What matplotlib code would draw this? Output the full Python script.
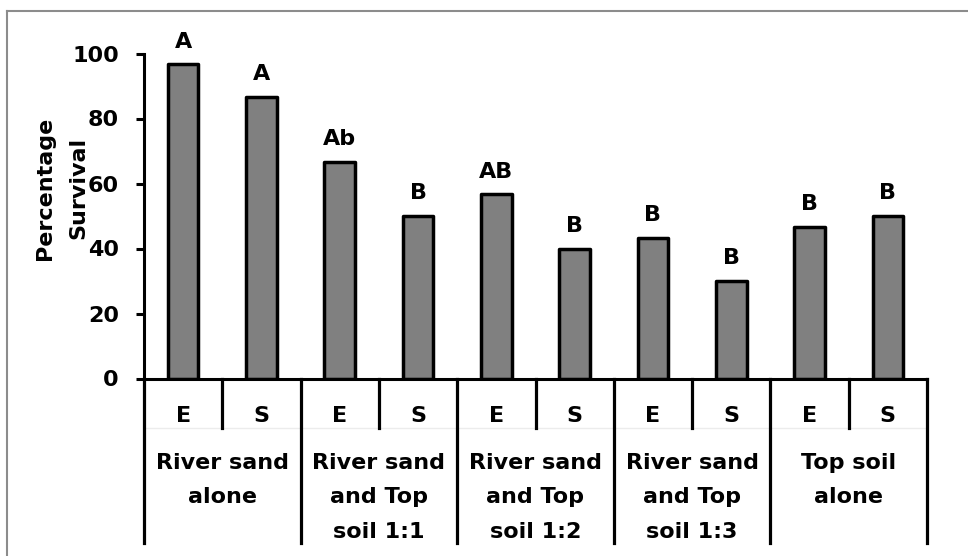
import numpy as np
import matplotlib
matplotlib.use('Agg')
import matplotlib.pyplot as plt
from matplotlib.lines import Line2D
from matplotlib.transforms import blended_transform_factory

groups = ['River sand\nalone', 'River sand\nand Top\nsoil 1:1', 'River sand\nand Top\nsoil 1:2',
          'River sand\nand Top\nsoil 1:3', 'Top soil\nalone']
subgroups = ['E', 'S']
survival = [96.67, 86.67, 66.67, 50.0, 56.67, 40.0, 43.33, 30.0, 46.67, 50.0]
letters = ['A', 'A', 'Ab', 'B', 'AB', 'B', 'B', 'B', 'B', 'B']
yticks = [0, 20, 40, 60, 80, 100]

plt.rcParams['font.family'] = ['DejaVu Sans']
plt.rcParams['font.weight'] = 'bold'
fs = 16

W, H = 968, 556
fig = plt.figure(figsize=(W / 100, H / 100), dpi=100)
ax = fig.add_axes([144 / W, (H - 378.5) / H, 783 / W, 325 / H])

x = np.arange(len(survival))
ax.bar(x, survival, width=0.39, color='#808080', edgecolor='black', linewidth=2.5, joinstyle='round')

for xi, v, lab in zip(x, survival, letters):
    ax.annotate(lab, xy=(xi, v), xytext=(0, 12), textcoords='offset points',
                ha='center', va='baseline', fontsize=fs, fontweight='bold')

ax.set_xlim(-0.5, len(survival) - 0.5)
ax.set_ylim(0, 100)
ax.set_yticks(yticks)
ax.set_xticks([])
ax.tick_params(axis='y', direction='out', length=6, width=2.2, pad=12, labelsize=fs)
for lbl in ax.get_yticklabels():
    lbl.set_fontweight('bold')
ax.spines['top'].set_visible(False)
ax.spines['right'].set_visible(False)
ax.spines['left'].set_linewidth(2.2)
ax.spines['bottom'].set_linewidth(2.2)

# category axis below the plot
trans = blended_transform_factory(ax.transData, ax.transAxes)
ax.add_line(Line2D([-0.5, len(survival) - 0.5], [-0.152, -0.152], transform=trans,
                   color='#ececec', lw=1, clip_on=False, zorder=0))
for i in range(len(survival) + 1):
    xb = i - 0.5
    y_end = -0.506 if i % 2 == 0 else -0.152
    ax.add_line(Line2D([xb, xb], [0, y_end], transform=trans, color='black', lw=2.3,
                       clip_on=False))
for xi in x:
    ax.text(xi, -0.133, subgroups[xi % 2], transform=trans, ha='center', va='baseline',
            fontsize=fs, fontweight='bold')
for g, name in enumerate(groups):
    ax.text(2 * g + 0.5, -0.229, name, transform=trans, ha='center', va='top',
            multialignment='center', linespacing=1.9, fontsize=fs, fontweight='bold')

fig.text(61.5 / W, 1 - 188 / H, 'Percentage\nSurvival', rotation=90, ha='center', va='center',
         multialignment='center', linespacing=1.83, fontsize=fs, fontweight='bold')

# outer frame
fig.add_artist(Line2D([7 / W, 1], [1 - 10.5 / H, 1 - 10.5 / H], transform=fig.transFigure,
                      color='#8c8c8c', lw=1.5))
fig.add_artist(Line2D([7 / W, 7 / W], [0, 1 - 10.5 / H], transform=fig.transFigure,
                      color='#8c8c8c', lw=1.5))

fig.savefig('out.png', dpi=100)
